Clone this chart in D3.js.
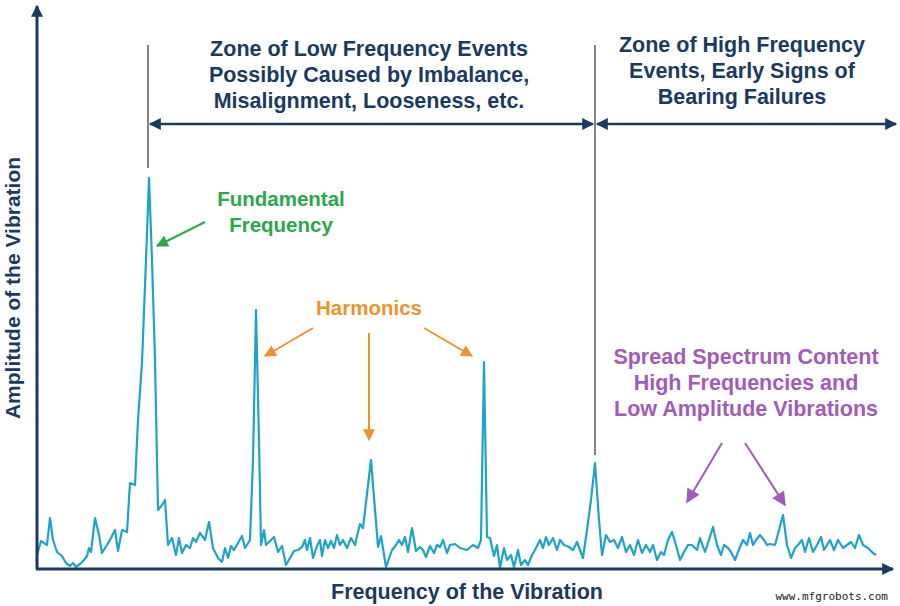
<!DOCTYPE html><html><head><meta charset="utf-8"><script src="https://cdn.jsdelivr.net/npm/d3@7"></script>
<style>body{margin:0;background:#fff}</style></head><body><svg id="c" width="900" height="606"></svg><script>
// spectrum: frequency (arbitrary units) and amplitude (arbitrary units)
const freq=[37,41,47,50,53,57,62,66,70,73,76,80,84,87,89,91,95,99,102,107,111,115,118,122,127,130,135,138,142,146,149,152,155,158,162,165,168,172,176,179,182,186,190,193,196,200,205,209,213,218,222,225,228,231,234,238,242,245,250,253,256,259,261,264,266,270,274,278,282,286,290,294,298,302,305,307,310,313,317,320,322,325,328,331,334,337,340,343,347,351,355,357,360,363,371,378,381,386,392,396,399,402,405,408,412,416,420,423,426,430,434,437,440,443,447,450,455,460,467,473,478,481,484,487,490,494,497,500,504,507,511,514,518,521,525,528,532,535,540,543,546,549,553,557,560,564,569,573,577,580,583,587,591,595,599,602,606,610,614,618,622,626,630,634,638,642,646,650,653,657,661,664,668,672,676,680,684,688,692,697,700,705,709,713,717,721,724,728,731,735,738,743,747,750,753,756,760,764,767,770,775,779,783,787,791,795,798,802,805,809,813,817,821,824,827,830,834,838,843,847,851,855,859,863,868,873,876];
const ypix=[555,541,545,518,540,552,556,563,566,563,567,564,560,556,548,552,518,535,553,545,538,530,551,530,532,483,485,420,363,260,178,260,360,510,505,500,545,538,555,538,553,545,548,538,542,533,540,522,548,558,562,548,558,546,550,543,536,548,540,460,310,440,545,530,545,541,537,552,546,565,558,551,550,547,540,550,538,558,546,540,556,540,548,541,548,535,545,540,548,538,545,536,524,528,460,547,536,567,550,545,540,545,537,552,528,551,547,550,557,546,553,545,547,540,553,545,544,548,550,545,548,540,362,537,538,556,545,568,548,560,555,567,550,565,560,565,555,550,540,548,537,545,538,550,540,545,547,550,542,550,558,530,500,463,520,555,535,542,540,548,537,552,545,555,540,553,545,552,545,560,552,555,540,532,545,560,552,545,545,550,538,552,540,527,545,555,545,548,552,560,552,540,545,533,545,540,535,540,545,544,545,530,515,545,558,548,545,540,552,538,552,545,537,550,545,540,550,540,548,545,542,548,535,545,548,553,555];
const amp=ypix.map(v=>568-v);
const svg=d3.select("#c");
const x=d3.scaleLinear().domain([0,900]).range([0,900]);
const y=d3.scaleLinear().domain([0,560]).range([568,8]);
const navy="#1b3a5e", cyan="#1fa3c9", green="#2aa84a", orange="#f0922b", purple="#a05cb8";
const defs=svg.append("defs");
function mk(id,c,w,h){defs.append("marker").attr("id",id).attr("viewBox","0 0 10 10").attr("refX",9).attr("refY",5).attr("markerWidth",w).attr("markerHeight",h).attr("orient","auto-start-reverse").attr("markerUnits","userSpaceOnUse").append("path").attr("d","M0,0L10,5L0,10z").attr("fill",c);}
mk("an",navy,18,12);mk("ag",green,16,12);mk("ao",orange,16,12);mk("ap",purple,18,14);
svg.append("path").attr("d",d3.line().x(d=>x(d[0])).y(d=>y(d[1]))(freq.map((f,i)=>[f,amp[i]]))).attr("fill","none").attr("stroke",cyan).attr("stroke-width",2.2).attr("stroke-linejoin","round");
svg.append("line").attr("x1",37).attr("y1",569).attr("x2",37).attr("y2",6).attr("stroke",navy).attr("stroke-width",3).attr("marker-end","url(#an)");
svg.append("line").attr("x1",36).attr("y1",569).attr("x2",893).attr("y2",569).attr("stroke",navy).attr("stroke-width",3).attr("marker-end","url(#an)");
svg.append("line").attr("x1",x(148)).attr("x2",x(148)).attr("y1",45).attr("y2",168).attr("stroke","#333").attr("stroke-width",1.2);
svg.append("line").attr("x1",x(595)).attr("x2",x(595)).attr("y1",45).attr("y2",455).attr("stroke","#333").attr("stroke-width",1.2);
svg.append("line").attr("x1",150).attr("x2",593).attr("y1",124).attr("y2",124).attr("stroke",navy).attr("stroke-width",2.5).attr("marker-start","url(#an)").attr("marker-end","url(#an)");
svg.append("line").attr("x1",597).attr("x2",896).attr("y1",124).attr("y2",124).attr("stroke",navy).attr("stroke-width",2.5).attr("marker-start","url(#an)").attr("marker-end","url(#an)");
function txt(lines,cx,y0,c,dy,fs){const t=svg.append("text").attr("text-anchor","middle").attr("font-family","Liberation Sans, Arial").attr("font-weight","bold").attr("font-size",fs).attr("fill",c);lines.forEach((l,i)=>t.append("tspan").attr("x",cx).attr("y",y0+i*dy).text(l));}
txt(["Zone of Low Frequency Events","Possibly Caused by Imbalance,","Misalignment, Looseness, etc."],369,56,navy,26,21.5);
txt(["Zone of High Frequency","Events, Early Signs of","Bearing Failures"],742,52,navy,26,21.5);
txt(["Fundamental","Frequency"],281,206,green,26,20.5);
txt(["Harmonics"],369,315,orange,26,20.5);
txt(["Spread Spectrum Content","High Frequencies and","Low Amplitude Vibrations"],746,364,purple,26,21.5);
txt(["Frequency of the Vibration"],467,599,navy,26,21.5);
svg.append("text").attr("transform","translate(20,288) rotate(-90)").attr("text-anchor","middle").attr("font-family","Liberation Sans, Arial").attr("font-weight","bold").attr("font-size",21).attr("fill",navy).text("Amplitude of the Vibration");
svg.append("text").attr("x",888).attr("y",600).attr("text-anchor","end").attr("font-family","DejaVu Sans Mono").attr("font-size",11).attr("fill","#222").text("www.mfgrobots.com");
function ar(x1,y1,x2,y2,c,m){svg.append("line").attr("x1",x1).attr("y1",y1).attr("x2",x2).attr("y2",y2).attr("stroke",c).attr("stroke-width",2).attr("marker-end",`url(#${m})`);}
ar(205,222,157,246,green,"ag");
ar(313,328,265,356,orange,"ao");
ar(369,333,369,440,orange,"ao");
ar(424,328,472,356,orange,"ao");
ar(722,443,687,502,purple,"ap");
ar(745,443,785,505,purple,"ap");
</script></body></html>
